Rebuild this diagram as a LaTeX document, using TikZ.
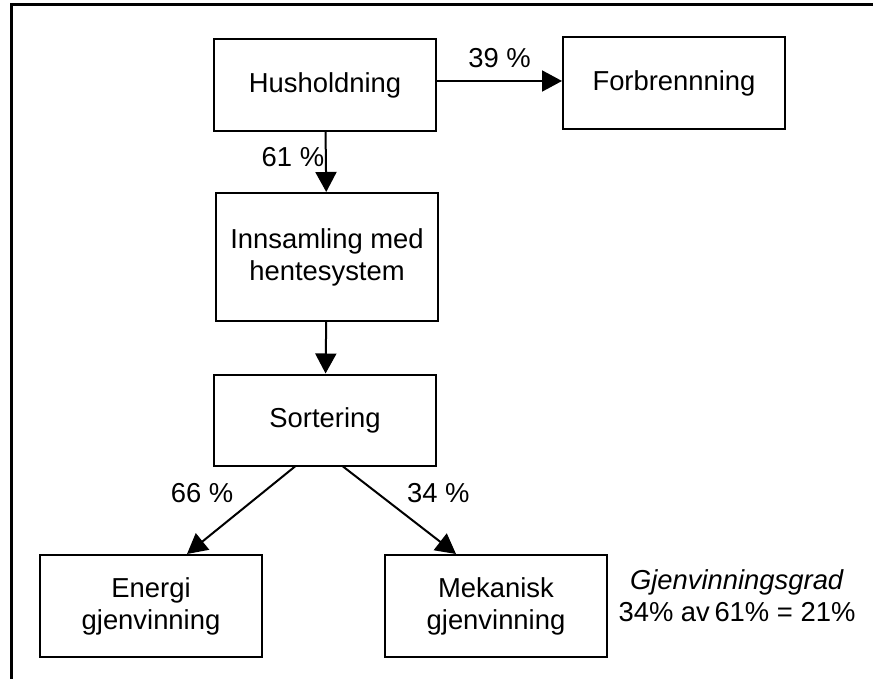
\documentclass[tikz,border=0pt]{standalone}
\usepackage{fontspec}
\setmainfont{Liberation Sans}
\usetikzlibrary{arrows.meta,positioning}

\begin{document}
\begin{tikzpicture}[x=0.5pt,y=-0.5pt,
		font=\fontsize{13.7}{16}\selectfont,
		boks/.style={draw,line width=1pt,minimum width=111pt,align=center,inner sep=2pt},
		pil/.style={line width=1pt,-{Triangle[length=10pt,width=10.5pt]}}]
			\useasboundingbox (0,0) rectangle (873,679);
			\draw[line width=1.5pt] (11,679) -- (11,5) -- (873,5);

			\node[boks,minimum height=46pt] (hus) at (325,85) {Husholdning};
			\node[boks,minimum height=46pt] (forb) at (674,83) {Forbrennning};
			\node[boks,minimum height=64pt] (inn) at (327,257) {Innsamling med\\hentesystem};
			\node[boks,minimum height=45.5pt] (sort) at (325,420) {Sortering};
			\node[boks,minimum height=51pt] (energi) at (151,606) {Energi\\gjenvinning};
			\node[boks,minimum height=51pt] (mek) at (496,606) {Mekanisk\\gjenvinning};
			\node[align=center] (grad) at (737,596) {\textit{Gjenvinningsgrad}\\34\% av\,61\% = 21\%};

			\draw[pil] ([yshift=2pt]hus.east) -- node[above,yshift=3pt] (p39) {39 \%} ([yshift=1pt]forb.west);
			\draw[pil] (hus) -- node[left,pos=0.42,xshift=3pt] (p61) {61 \%} (inn);
			\draw[pil] (inn) -- (sort);
			\draw[pil] ([xshift=-15pt]sort.south) -- node[above left,pos=0.5] (p66) {66 \%} ([xshift=18pt]energi.north);
			\draw[pil] ([xshift=9pt]sort.south) -- node[above right,pos=0.5] (p34) {34 \%} ([xshift=-20pt]mek.north);
		\end{tikzpicture}
\end{document}
